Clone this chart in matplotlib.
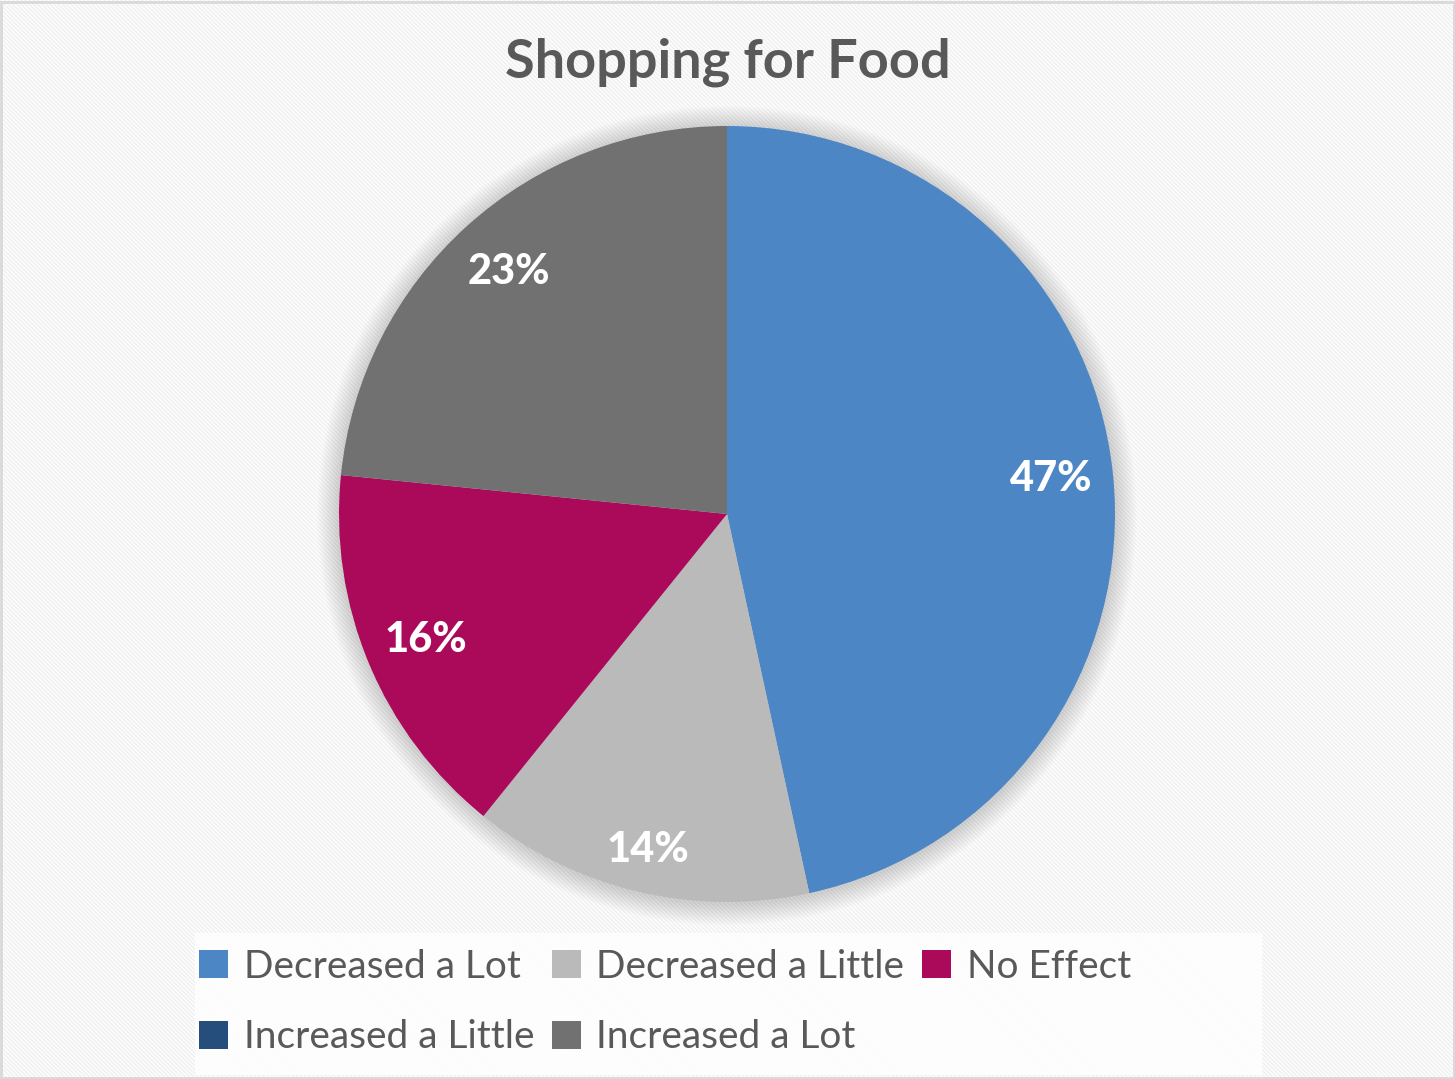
import numpy as np
import matplotlib.pyplot as plt
from matplotlib.patches import Rectangle, Circle

# data
categories = ['Decreased a Lot', 'Decreased a Little', 'No Effect', 'Increased a Little', 'Increased a Lot']
shares = [46.6, 14.2, 15.8, 0, 23.4]
colors = ['#4d86c5', '#bababa', '#ab0a5a', '#264e7d', '#717171']

plt.rcParams['font.family'] = ['Lato', 'DejaVu Sans']
plt.rcParams['hatch.linewidth'] = 1.2

fig = plt.figure(figsize=(14.55, 10.79), dpi=100)
fig.patch.set_facecolor('white')

# hatched background + thin border
bg = Rectangle((0, 0), 1, 1, transform=fig.transFigure, facecolor='white',
               edgecolor='#f1f1f1', hatch='\\\\\\\\\\\\\\\\', linewidth=0, zorder=-10)
fig.patches.append(bg)
border = Rectangle((0.001, 0.001), 0.998, 0.997, transform=fig.transFigure, fill=False,
                   edgecolor='#d9d9d9', linewidth=2, zorder=10)
fig.patches.append(border)

# legend backdrop
leg_bg = Rectangle((195 / 1455, 1 - 1075 / 1079), (1262 - 195) / 1455, (1075 - 933) / 1079,
                   transform=fig.transFigure, facecolor='white', edgecolor='none', alpha=0.8, zorder=-5)
fig.patches.append(leg_bg)

cx, cy, r = 727, 514, 388
ax = fig.add_axes([(cx - r) / 1455, (1079 - cy - r) / 1079, 2 * r / 1455, 2 * r / 1079])

# soft shadow
for i in range(14):
    ax.add_patch(Circle((0.0, -0.004), 1.0 + 0.004 * (i + 1), color='black',
                        alpha=0.011, linewidth=0, zorder=0, clip_on=False))

wedges, texts, autotexts = ax.pie(
    shares, colors=colors, startangle=90, counterclock=False, radius=1,
    autopct=lambda p: f'{p:.0f}%' if p > 0 else '', pctdistance=0.84,
    wedgeprops=dict(linewidth=0), textprops=dict(color='white', fontsize=30, fontweight='black'))
for w in wedges:
    w.set_zorder(2)
for t in autotexts:
    t.set_zorder(3)

# the small light-grey slice has its label a bit further out
w = wedges[1]
mid = np.deg2rad((w.theta1 + w.theta2) / 2)
autotexts[1].set_position((0.89 * np.cos(mid), 0.89 * np.sin(mid)))

ax.set_xlim(-1, 1)
ax.set_ylim(-1, 1)
ax.set_aspect('equal')
ax.axis('off')

fig.text(0.5, 1 - 62 / 1079, 'Shopping for Food', ha='center', va='center',
         fontsize=39, fontweight='bold', color='#595959')

order = [0, 3, 1, 4, 2]
leg = fig.legend([wedges[i] for i in order], [categories[i] for i in order],
                 loc='center', bbox_to_anchor=(665 / 1455, 1 - 1002 / 1079), ncol=3,
                 frameon=False, fontsize=28, handlelength=0.75, handleheight=0.75,
                 handletextpad=0.4, columnspacing=0.45, labelspacing=0.9, labelcolor='#595959')

fig.savefig('out.png', dpi=100)
